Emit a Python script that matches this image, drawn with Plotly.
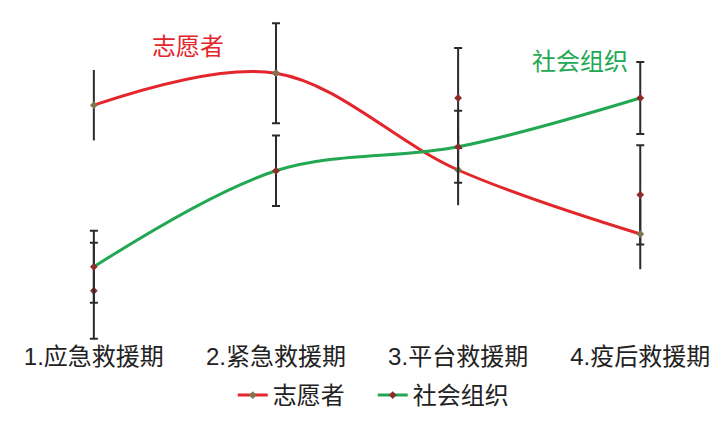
import plotly.graph_objects as go

categories = ["1.应急救援期", "2.紧急救援期", "3.平台救援期", "4.疫后救援期"]
x_pos = [0, 1, 2, 3]

volunteer_line = [2.81, 3.21, 2.00, 1.20]
volunteer_err = [0.44, 0.44, 0.44, 0.44]

org_line = [0.79, 1.99, 2.29, 2.90]
org_err = [0.45, 0.44, 0.45, 0.45]

volunteer_pts = [0.49, 3.21, 2.90, 1.69]
volunteer_pts_err = [0.60, 0.625, 0.625, 0.62]

RED = "#E3262B"
GREEN = "#22A853"
OLIVE = "#7d7650"
DARKRED = "#8E2B2B"
BAR = "#2b2b2b"
FONT = "Liberation Sans, Noto Sans CJK SC, sans-serif"

fig = go.Figure()

fig.add_trace(go.Scatter(
    x=x_pos, y=volunteer_pts, mode="markers", showlegend=False,
    marker=dict(color=DARKRED, size=6, symbol="diamond"),
    error_y=dict(type="data", array=volunteer_pts_err, color=BAR, thickness=2, width=4),
))

fig.add_trace(go.Scatter(
    x=x_pos, y=volunteer_line, mode="lines+markers", name="志愿者",
    line=dict(color=RED, width=3, shape="spline", smoothing=1.0),
    marker=dict(color=OLIVE, size=6, symbol="diamond"),
    error_y=dict(type="data", array=volunteer_err, color=BAR, thickness=2, width=0),
))

fig.add_trace(go.Scatter(
    x=x_pos, y=org_line, mode="lines+markers", name="社会组织",
    line=dict(color=GREEN, width=3, shape="spline", smoothing=1.0),
    marker=dict(color=DARKRED, size=6, symbol="diamond"),
    error_y=dict(type="data", array=org_err, color=BAR, thickness=2, width=4),
))

fig.add_annotation(x=0.516, y=3.54, text="志愿者", showarrow=False,
                   font=dict(color=RED, size=24, family=FONT))
fig.add_annotation(x=2.67, y=3.36, text="社会组织", showarrow=False,
                   font=dict(color=GREEN, size=24, family=FONT))

fig.update_layout(
    width=704, height=407,
    margin=dict(l=13, r=8, t=2, b=75, autoexpand=False),
    paper_bgcolor="white", plot_bgcolor="white",
    font=dict(family=FONT, size=24, color="#222"),
    showlegend=True,
    legend=dict(orientation="h", x=0.515, xanchor="center", y=-0.10, yanchor="top",
                font=dict(size=24), itemwidth=30, tracegroupgap=0,
                entrywidth=95),
    xaxis=dict(range=[-0.4, 3.35], tickvals=x_pos, ticktext=categories,
               showgrid=False, zeroline=False, showline=False, ticks="",
               tickfont=dict(size=24), automargin=False),
    yaxis=dict(range=[-0.125, 4.0], visible=False, automargin=False),
)

fig.write_html("out.html")
